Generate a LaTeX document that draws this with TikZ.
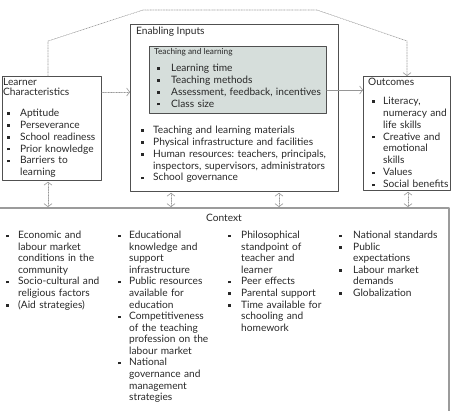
\documentclass[tikz,border=0pt]{standalone}
\usepackage{fontspec}
\setmainfont{Lato}
\usepackage{enumitem}
\usetikzlibrary{arrows.meta,positioning}
\frenchspacing
\definecolor{inkgrey}{RGB}{40,40,40}
\definecolor{framegrey}{RGB}{80,80,80}
\definecolor{linkgrey}{RGB}{150,150,150}
\definecolor{ctxgrey}{RGB}{155,155,155}
\definecolor{tlfill}{RGB}{214,222,219}
\newcommand{\sqbullet}{\raisebox{0.3ex}{\rule{2.6bp}{2.6bp}}}
\newlist{blist}{itemize}{1}
\setlist[blist]{nosep,label=\sqbullet,labelindent=0pt,labelwidth=2.6bp,labelsep=*,align=left}
\newcommand{\boxfont}{\fontsize{10.2}{12}\selectfont}
\newcommand{\ctxfont}{\fontsize{10.2}{11.6}\selectfont}
\tikzset{
    framebox/.style={draw=framegrey, line width=0.8bp, inner sep=0pt, anchor=north west},
    boxhead/.style={anchor=north west, inner sep=0pt, align=left, text=inkgrey,
        font=\fontsize{10.2}{10.5}\selectfont},
    listtext/.style={anchor=north west, inner sep=0pt, align=left, text=inkgrey, font=\boxfont},
    flowdot/.style={draw=linkgrey, densely dotted, line width=0.6bp},
    flowsolid/.style={draw=linkgrey, line width=0.6bp},
    ctxline/.style={draw=ctxgrey, line width=1.4bp},
}
\begin{document}
\begin{tikzpicture}
        [x=1bp,y=-1bp,>={Straight Barb[length=3bp,width=8bp]},
         line cap=round, line join=round]
\useasboundingbox (0,0) rectangle (454,410);
% boxes
\node[framebox, minimum width=99bp, minimum height=104bp] (learner) at (2,76) {};
\node[framebox, minimum width=208bp, minimum height=167bp] (enabling) at (130,24) {};
\node[framebox, fill=tlfill, minimum width=177bp, minimum height=67bp] (teaching) at (149,46) {};
\node[framebox, minimum width=87bp, minimum height=114bp] (outcomes) at (363,76) {};
\coordinate (ctxnw) at (-2,208);
\coordinate (ctxse) at (449,414);
\draw[ctxline] (ctxnw) -| (ctxse);
% headings
\node[boxhead] (learnerhead) at (3,78) {Learner\\Characteristics};
\node[boxhead] (enablinghead) at (136,27) {Enabling Inputs};
\node[boxhead, font=\fontsize{8.3}{9}\selectfont] (teachinghead) at (154,48) {Teaching and learning};
\node[boxhead] (outcomeshead) at (368,78) {Outcomes};
\node[text=inkgrey, inner sep=0pt, font=\fontsize{10.2}{11}\selectfont] (ctxhead) at (224,218) {Context};
% lists in the boxes
\node[listtext, text width=92bp] (learnerlist) at (7,104) {%
\begin{blist}[leftmargin=13bp]
\item Aptitude
\item Perseverance
\item School readiness
\item Prior knowledge
\item Barriers to\newline learning
\end{blist}};
\node[listtext, text width=168bp] (teachinglist) at (157,59) {%
\begin{blist}[leftmargin=14bp]
\item Learning time
\item Teaching methods
\item Assessment, feedback, incentives
\item Class size
\end{blist}};
\node[listtext, text width=195bp] (enablinglist) at (141,121) {%
\begin{blist}[leftmargin=12bp]
\item Teaching and learning materials
\item Physical infrastructure and facilities
\item Human resources: teachers, principals,\newline inspectors, supervisors, administrators
\item School governance
\end{blist}};
\node[listtext, text width=84bp] (outcomeslist) at (372,92) {%
\begin{blist}[leftmargin=11bp]
\item Literacy,\newline numeracy and\newline life skills
\item Creative and\newline emotional\newline skills
\item Values
\item Social benefits
\end{blist}};
% context columns
\node[listtext, font=\ctxfont, text width=104bp] (ctxone) at (6,227) {%
\begin{blist}[leftmargin=12bp]
\item Economic and\newline labour market\newline conditions in the\newline community
\item Socio-cultural and\newline religious factors
\item (Aid strategies)
\end{blist}};
\node[listtext, font=\ctxfont, text width=104bp] (ctxtwo) at (118,227) {%
\begin{blist}[leftmargin=11bp]
\item Educational\newline knowledge and\newline support\newline infrastructure
\item Public resources\newline available for\newline education
\item Competitiveness\newline of the teaching\newline profession on the\newline labour market
\item National\newline governance and\newline management\newline strategies
\end{blist}};
\node[listtext, font=\ctxfont, text width=104bp] (ctxthree) at (228,227) {%
\begin{blist}[leftmargin=13bp]
\item Philosophical\newline standpoint of\newline teacher and\newline learner
\item Peer effects
\item Parental support
\item Time available for\newline schooling and\newline homework
\end{blist}};
\node[listtext, font=\ctxfont, text width=104bp] (ctxfour) at (339,227) {%
\begin{blist}[leftmargin=14bp]
\item National standards
\item Public\newline expectations
\item Labour market\newline demands
\item Globalization
\end{blist}};
% connectors
\coordinate (rowin) at (0,92);
\coordinate (rowout) at (0,90);
\coordinate (loopl) at (48,41);
\coordinate (loopa) at (143,10);
\coordinate (loopb) at (317,10);
\coordinate (loopr) at (407,41);
\draw[flowdot,->] (learner.east |- rowin) -- (enabling.west |- rowin);
\draw[flowsolid,->] (teaching.east |- rowout) -- (outcomes.west |- rowout);
\draw[flowdot,->] (learner.north -| loopl) -- (loopl) -- (loopa) -- (loopb)
    -- (loopr) -- (outcomes.north -| loopr);
\foreach \xx/\nd in {48/learner,171/enabling,279/enabling,408/outcomes}{
    \coordinate (dn) at (\xx,0);
    \draw[flowdot,<->] ([yshift=-1bp]\nd.south -| dn) -- ([yshift=1bp]ctxnw -| dn);
}
\end{tikzpicture}
\end{document}
